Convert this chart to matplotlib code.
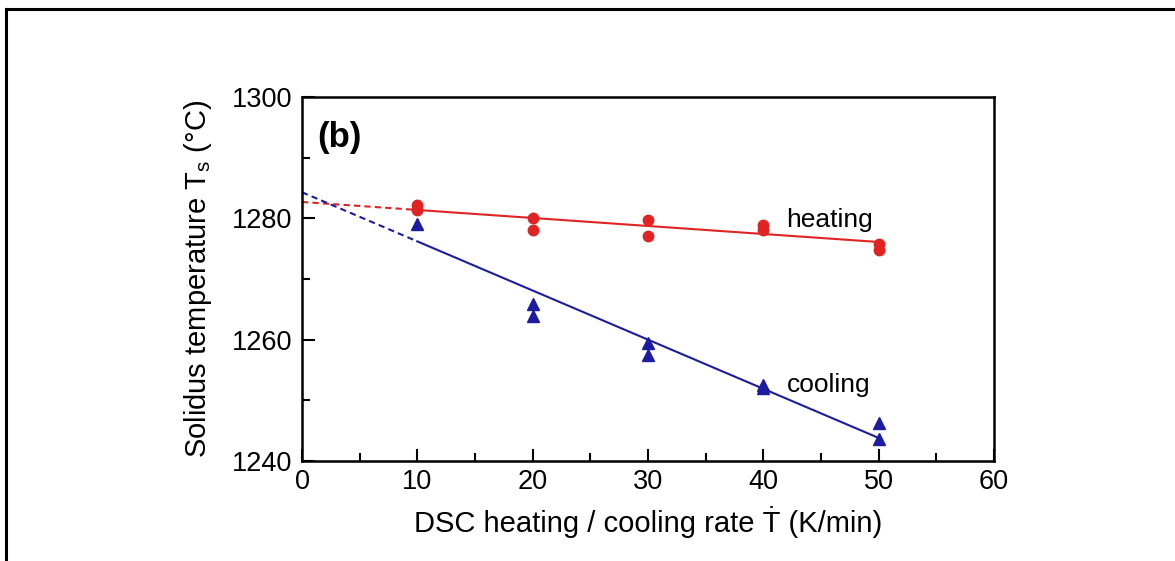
import numpy as np
import matplotlib
matplotlib.use("Agg")
import matplotlib.pyplot as plt
from matplotlib.lines import Line2D

plt.rcParams['font.family'] = ['Liberation Sans', 'DejaVu Sans']
plt.rcParams['mathtext.fontset'] = 'custom'
plt.rcParams['mathtext.rm'] = 'Liberation Sans'

# measured solidus temperatures (two runs per rate)
heat_rate = [10, 10, 20, 20, 30, 30, 40, 40, 50, 50]
heat_temp = [1282.2, 1281.4, 1280.1, 1278.1, 1279.7, 1277.1, 1278.9, 1278.0, 1275.7, 1274.8]
cool_rate = [10, 20, 20, 30, 30, 40, 40, 50, 50]
cool_temp = [1279.1, 1265.9, 1263.9, 1259.4, 1257.4, 1252.6, 1252.0, 1246.2, 1243.6]

# linear fits: T = a + b * rate
heat_fit = (1282.7, -0.132)
cool_fit = (1284.3, -0.81)
fit_solid = [10, 50]
fit_extrap = [0, 10]

red = '#e02424'
blue = '#1c1ca0'

fig = plt.figure(figsize=(11.75, 5.61), dpi=100)
ax = fig.add_axes([302/1175, 1-461/561, 692/1175, 364/561])

for fit, col in [(heat_fit, red), (cool_fit, blue)]:
    xs = np.array(fit_solid)
    ax.plot(xs, fit[0] + fit[1]*xs, color=col, lw=1.5)
    xd = np.array(fit_extrap)
    ax.plot(xd, fit[0] + fit[1]*xd, color=col, lw=1.5, ls=(0, (3, 2)))

ax.plot(heat_rate, heat_temp, 'o', color=red, ms=7.5, mec=red)
ax.plot(cool_rate, cool_temp, '^', color=blue, ms=8.5, mec=blue)

ax.set_xlim(0, 60)
ax.set_ylim(1240, 1300)
ax.set_xticks(range(0, 61, 10))
ax.set_xticks(range(5, 60, 10), minor=True)
ax.set_yticks(range(1240, 1301, 20))
ax.set_yticks(range(1250, 1300, 20), minor=True)
ax.tick_params(which='both', direction='in', top=False, right=False, width=1.5,
               labelsize=19.5)
ax.tick_params(axis='y', pad=7)
ax.tick_params(axis='x', pad=6)
ax.tick_params(which='major', length=9)
ax.tick_params(which='minor', length=6)
for s in ax.spines.values():
    s.set_linewidth(1.8)

ax.set_xlabel('DSC heating / cooling rate \u1E6A (K/min)', fontsize=21, labelpad=8)
ax.set_ylabel(r'Solidus temperature T$_{\mathregular{s}}$ (°C)', fontsize=21, labelpad=13)

ax.text(1.3, 1293.4, '(b)', fontsize=25, fontweight='bold', va='center')
ax.text(42.0, 1279.8, 'heating', fontsize=19, va='center')
ax.text(42.0, 1252.5, 'cooling', fontsize=19, va='center')

# outer frame (top and left edges)
fig.add_artist(Line2D([6/1175, 1], [1-9/561, 1-9/561], color='black', lw=2.2,
                      transform=fig.transFigure))
fig.add_artist(Line2D([6/1175, 6/1175], [0, 1-9/561], color='black', lw=2.2,
                      transform=fig.transFigure))

fig.savefig('out.png', dpi=100)
